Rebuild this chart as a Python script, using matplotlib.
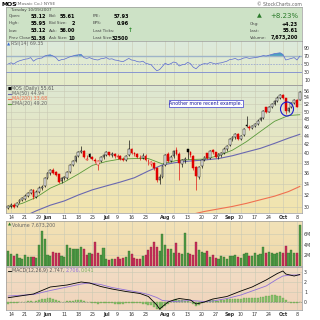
import numpy as np
import pandas as pd
import matplotlib
matplotlib.use("Agg")
import matplotlib.pyplot as plt
from matplotlib.colors import to_rgb
from matplotlib.patches import Ellipse

# trading days shown (NYSE holidays removed)
holidays = ["2007-05-28", "2007-07-04", "2007-09-03"]
days = pd.bdate_range("2007-05-11", "2007-10-09")
days = days[~days.isin(pd.to_datetime(holidays))]

opens = [29.9, 30.2, 30.4, 30.1, 30.8, 31.2, 31.4, 31.9, 32.3, 32.9,
         31.7, 32.6, 33.3, 33.5, 35.0, 36.1, 36.6, 36.2, 35.8, 34.5,
         35.0, 35.1, 36.2, 37.6, 38.4, 39.4, 40.3, 40.5, 38.7, 39.9,
         39.3, 38.7, 37.6, 38.4, 39.2, 39.7, 40.2, 39.6, 39.9, 39.3,
         39.5, 38.8, 38.7, 39.6, 40.9, 40.0, 39.9, 39.0, 39.1, 39.5,
         38.5, 37.8, 38.0, 36.9, 34.6, 35.2, 37.6, 39.9, 38.5, 39.4,
         40.8, 39.9, 37.8, 38.6, 40.9, 40.2, 39.5, 37.2, 35.2, 37.3,
         38.7, 40.0, 39.1, 40.8, 40.2, 39.3, 39.7, 40.1, 41.0, 41.8,
         43.1, 43.6, 44.3, 43.2, 44.2, 46.6, 46.1, 45.8, 46.3, 46.9,
         47.8, 48.4, 51.2, 50.0, 51.3, 52.2, 53.0, 53.9, 54.7, 53.7,
         50.1, 51.2, 52.4, 53.3, 53.12]
highs = [30.4, 30.6, 30.6, 30.8, 31.4, 31.7, 32.1, 32.5, 33.1, 33.0,
         32.8, 33.5, 33.7, 35.2, 36.2, 36.8, 36.9, 36.3, 35.9, 35.2,
         35.5, 36.4, 37.8, 38.6, 39.5, 40.6, 41.6, 40.7, 39.6, 40.1,
         39.5, 39.0, 38.6, 39.4, 39.9, 40.5, 40.4, 40.2, 40.0, 39.8,
         39.6, 39.2, 39.7, 43.0, 41.2, 40.4, 40.1, 39.6, 40.0, 39.8,
         38.9, 38.5, 38.2, 37.1, 35.8, 37.6, 39.9, 40.3, 39.6, 40.7,
         41.4, 40.2, 38.9, 39.3, 41.0, 40.5, 39.6, 37.4, 37.4, 38.9,
         39.5, 40.1, 40.8, 41.0, 40.4, 40.0, 40.4, 41.3, 41.9, 43.4,
         43.9, 44.6, 44.5, 44.2, 45.9, 49.0, 46.5, 46.6, 47.1, 48.0,
         48.6, 50.6, 51.3, 51.6, 52.4, 53.3, 54.3, 55.0, 55.0, 53.9,
         51.4, 52.6, 53.5, 53.6, 55.95]
lows = [29.7, 29.9, 29.8, 30.0, 30.6, 31.0, 31.2, 31.7, 32.1, 31.4,
        31.5, 32.3, 32.8, 33.4, 34.8, 35.7, 35.9, 35.5, 34.2, 34.1,
        34.6, 34.9, 36.0, 37.3, 38.2, 39.2, 40.0, 39.0, 38.6, 39.0,
        38.6, 38.0, 36.6, 38.2, 38.9, 39.4, 39.5, 39.3, 39.1, 38.9,
        38.7, 38.3, 38.5, 39.4, 39.9, 39.5, 39.1, 38.6, 38.9, 38.4,
        37.6, 37.3, 36.6, 34.3, 33.9, 35.0, 37.4, 38.2, 38.1, 39.1,
        39.6, 34.6, 37.2, 38.0, 38.9, 39.2, 36.5, 32.8, 34.9, 37.0,
        38.3, 38.8, 38.9, 39.9, 39.0, 38.9, 39.3, 39.9, 40.6, 41.6,
        42.7, 43.3, 43.0, 42.9, 44.0, 46.0, 45.4, 45.5, 46.0, 46.6,
        47.5, 48.1, 49.7, 49.8, 51.0, 51.8, 52.8, 53.6, 53.4, 49.3,
        49.9, 51.0, 52.0, 51.2, 53.12]
closes = [30.2, 30.3, 30.0, 30.7, 31.2, 31.5, 31.9, 32.3, 32.9, 31.6,
          32.6, 33.2, 33.4, 35.0, 36.0, 36.5, 36.1, 35.7, 34.4, 35.0,
          35.3, 36.2, 37.6, 38.4, 39.4, 40.3, 40.6, 39.2, 38.9, 39.3,
          38.8, 38.4, 38.3, 39.2, 39.7, 40.2, 39.7, 39.9, 39.4, 39.3,
          38.9, 38.6, 39.5, 40.9, 40.1, 39.9, 39.3, 39.1, 39.5, 38.6,
          38.3, 38.1, 36.9, 34.6, 35.3, 37.3, 39.6, 38.5, 39.3, 40.5,
          39.9, 37.9, 38.6, 38.9, 40.4, 39.7, 36.9, 35.4, 37.1, 38.7,
          39.2, 39.0, 40.6, 40.2, 39.3, 39.8, 40.1, 41.0, 41.7, 43.1,
          43.6, 44.4, 43.3, 44.0, 45.7, 46.3, 45.8, 46.3, 46.8, 47.7,
          48.3, 50.3, 49.9, 51.3, 52.1, 53.0, 53.9, 54.6, 53.7, 50.1,
          51.1, 52.4, 53.2, 51.38, 55.61]
volume_m = [2.8, 2.3, 1.8, 2.2, 1.5, 1.4, 2.1, 1.6, 1.7, 1.7,
            1.5, 4.0, 6.5, 5.0, 2.0, 1.8, 2.6, 2.4, 2.5, 1.9,
            1.6, 4.0, 3.4, 3.1, 3.1, 3.2, 3.6, 3.1, 2.0, 2.5,
            2.2, 4.4, 2.5, 2.0, 3.4, 1.3, 1.2, 1.4, 1.4, 1.6,
            1.4, 1.5, 1.7, 2.8, 2.2, 1.5, 1.4, 1.3, 1.8, 2.1,
            3.0, 3.6, 4.5, 3.6, 2.8, 5.9, 4.0, 3.1, 3.1, 2.4,
            4.3, 2.5, 2.2, 6.2, 2.5, 2.3, 2.0, 4.5, 3.0, 2.6,
            2.4, 2.8, 1.6, 2.0, 1.5, 1.4, 1.8, 1.6, 1.4, 1.8,
            1.9, 2.0, 1.6, 1.5, 2.2, 2.5, 1.8, 1.9, 2.5, 2.0,
            2.2, 3.6, 2.4, 2.6, 2.5, 2.3, 2.4, 2.6, 2.5, 3.8,
            2.5, 3.0, 2.5, 2.4, 7.673]
rsi = [50, 53, 50, 55, 58, 60, 62, 63, 66, 57,
       62, 64, 65, 70, 72, 73, 70, 66, 58, 61,
       62, 65, 68, 70, 72, 73, 74, 66, 64, 66,
       63, 61, 60, 63, 64, 66, 62, 63, 60, 59,
       57, 56, 60, 64, 60, 59, 56, 55, 57, 52,
       50, 48, 40, 33, 36, 44, 52, 48, 51, 55,
       53, 45, 48, 49, 54, 51, 42, 38, 45, 49,
       51, 50, 54, 52, 50, 52, 53, 55, 57, 61,
       62, 64, 60, 62, 65, 66, 64, 65, 66, 67,
       69, 71, 70, 72, 74, 76, 77, 78, 74, 60,
       62, 64, 66, 60, 69.35]
macd_hist = [-0.15, -0.12, -0.1, -0.05, 0.0, 0.02, 0.05, 0.08, 0.1, 0.05,
             0.1, 0.2, 0.3, 0.35, 0.4, 0.4, 0.35, 0.25, 0.1, 0.05,
             0.05, 0.08, 0.1, 0.15, 0.2, 0.25, 0.25, 0.15, 0.05, 0.0,
             -0.05, -0.1, -0.15, -0.12, -0.1, -0.08, -0.1, -0.12, -0.15, -0.15,
             -0.15, -0.15, -0.1, -0.05, -0.08, -0.1, -0.12, -0.12, -0.15, -0.2,
             -0.25, -0.3, -0.45, -0.7, -0.8, -0.6, -0.4, -0.2, 0.05, 0.2,
             0.3, 0.25, 0.2, 0.15, 0.1, 0.0, -0.2, -0.35, -0.25, -0.1,
             0.0, 0.1, 0.2, 0.2, 0.15, 0.15, 0.2, 0.25, 0.3, 0.35,
             0.35, 0.3, 0.3, 0.35, 0.4, 0.45, 0.4, 0.4, 0.4, 0.45,
             0.5, 0.55, 0.6, 0.65, 0.7, 0.7, 0.65, 0.6, 0.45, 0.2,
             0.0, -0.1, -0.12, -0.1, 0.041]

# overlay lines read at sample days (index into days)
ema20_idx = [0, 5, 10, 15, 20, 25, 30, 35, 40, 45, 50, 55, 60, 65, 70, 75, 80, 85, 90, 95, 100, 104]
ema20 = [30.0, 30.6, 31.6, 33.2, 34.3, 35.8, 37.5, 38.3, 38.8, 38.9, 38.9,
         37.8, 38.5, 38.7, 38.8, 39.5, 40.7, 42.6, 45.0, 47.5, 49.0, 49.2]
ma50_idx = [8, 10, 15, 20, 25, 30, 35, 40, 45, 50, 55, 60, 65, 70, 75, 80, 85, 90, 95, 100, 104]
ma50 = [29.0, 29.4, 30.3, 31.0, 32.0, 32.9, 33.6, 34.3, 35.1, 36.4, 37.6,
        38.1, 38.4, 38.6, 38.9, 39.5, 40.3, 41.1, 42.2, 43.4, 44.3]
ma200_idx = [65, 70, 75, 80, 85, 90, 95, 100, 104]
ma200 = [28.8, 29.3, 29.7, 30.1, 30.6, 31.2, 31.8, 32.6, 33.5]
macd_idx = [0, 9, 15, 21, 26, 29, 33, 37, 42, 47, 50, 53, 54, 57, 59, 61, 65, 67,
            70, 73, 78, 83, 87, 92, 96, 98, 99, 102, 104]
macd = [0.43, 0.8, 1.5, 1.7, 2.0, 1.9, 1.55, 1.3, 1.05, 0.85, 0.55, -0.3, -0.7,
        0.0, 0.2, 0.35, 0.2, -0.2, 0.0, 0.3, 0.55, 1.1, 1.5, 2.2, 2.85, 3.1, 2.8,
        2.6, 2.747]
signal_idx = [0, 9, 15, 21, 26, 29, 33, 37, 42, 47, 50, 53, 55, 59, 65, 70, 73,
              78, 83, 87, 92, 96, 98, 101, 104]
signal = [0.6, 0.75, 1.15, 1.5, 1.8, 1.9, 1.75, 1.45, 1.2, 0.95, 0.75, 0.45,
          0.15, 0.05, 0.15, 0.05, 0.1, 0.35, 0.7, 1.1, 1.6, 2.3, 2.6, 2.7, 2.706]

tick_dates = ["2007-05-14", "2007-05-21", "2007-05-29", "2007-06-01", "2007-06-11",
              "2007-06-18", "2007-06-25", "2007-07-02", "2007-07-09", "2007-07-16",
              "2007-07-23", "2007-08-01", "2007-08-06", "2007-08-13", "2007-08-20",
              "2007-08-27", "2007-09-04", "2007-09-10", "2007-09-17", "2007-09-24",
              "2007-10-01", "2007-10-08"]
tick_labels = ["14", "21", "29", "Jun", "11", "18", "25", "Jul", "9", "16", "23",
               "Aug", "6", "13", "20", "27", "Sep", "10", "17", "24", "Oct", "8"]

W = H = 320
RED = "#e00000"
GRID = "#c9c9b4"
fig = plt.figure(figsize=(3.2, 3.2), dpi=100)
fig.patch.set_facecolor("white")


def px(x, y):
    return x / W, 1 - y / H


def ftext(x, y, s, **kw):
    kw.setdefault("fontsize", 3.6)
    kw.setdefault("va", "center")
    fig.text(*px(x, y), s, **kw)


def panel(top, bottom, c_top, c_bot):
    rect = [6 / W, 1 - bottom / H, 296 / W, (bottom - top) / H]
    bg = fig.add_axes(rect, zorder=0)
    t = np.linspace(0, 1, 64)[:, None]
    img = np.array(to_rgb(c_top)) * (1 - t) + np.array(to_rgb(c_bot)) * t
    bg.imshow(img[:, None, :], aspect="auto", extent=[0, 1, 0, 1])
    bg.set_axis_off()
    ax = fig.add_axes(rect, zorder=1)
    ax.patch.set_alpha(0)
    for s in ax.spines.values():
        s.set_color("#9a9a9a")
        s.set_linewidth(0.5)
    ax.yaxis.tick_right()
    ax.tick_params(length=0, labelsize=3.4, pad=1.5, colors="#333333")
    ax.set_xlim(-0.8, len(days) - 0.2)
    return ax


x = np.arange(len(days))
tick_pos = [days.get_loc(pd.Timestamp(d)) for d in tick_dates]


def vgrid(ax, labels):
    ax.set_xticks(tick_pos)
    if labels:
        ax.set_xticklabels(tick_labels)
        for t, lab in zip(ax.get_xticklabels(), tick_labels):
            if not lab.isdigit():
                t.set_fontweight("bold")
    else:
        ax.set_xticklabels([])
    ax.tick_params(axis="x", labelsize=3.4, pad=1.5)
    ax.grid(True, axis="x", color=GRID, lw=0.4)


closes_a = np.array(closes)
prev = np.r_[closes_a[0], closes_a[:-1]]
up_day = closes_a >= prev

# ---- header ----
ftext(1, 4, "MOS", fontsize=4.4, fontweight="bold")
ftext(15.5, 4.3, "(Mosaic Co.) NYSE", color="#666666", fontsize=3.2)
ftext(302, 4.3, "© StockCharts.com", color="#666666", fontsize=3.3, ha="right")

info = fig.add_axes([6 / W, 1 - 41 / H, 296 / W, 34 / H])
info.set_facecolor("#cde2c6")
info.set_xticks([])
info.set_yticks([])
for s in info.spines.values():
    s.set_color("#9a9a9a")
    s.set_linewidth(0.5)

LAB = dict(color="#444444", fontsize=3.0)
VAL = dict(fontweight="bold", ha="right", fontsize=3.5)
ftext(10, 10, "Tuesday 10/09/2007", **LAB)
rows = [16, 23.3, 30.7, 38]
col1 = [("Open:", "53.12"), ("High:", "55.95"), ("Low:", "53.12"), ("Prev Close:", "51.38")]
col2 = [("Bid:", "55.61"), ("Bid Size:", "2"), ("Ask:", "56.00"), ("Ask Size:", "10")]
col3 = [("P/E:", "57.93"), ("EPS:", "0.96"), ("Last Ticks:", ""), ("Last Size:", "32500")]
for y, (a, b), (c, d), (e, f) in zip(rows, col1, col2, col3):
    ftext(9, y, a, **LAB)
    ftext(46, y, b, **VAL)
    ftext(49, y, c, **LAB)
    ftext(75, y, d, **VAL)
    ftext(93, y, e, **LAB)
    ftext(129, y, f, **VAL)
ftext(127.5, 30.7, "↑", color="#2a8a2a", fontweight="bold", fontsize=4.2)
ftext(259, 16, "▲", color="#2a7a2a", fontsize=4.5, ha="center")
ftext(298, 16, "+8.23%", color="#2a7a2a", fontsize=5, ha="right")
for y, a, b in [(24, "Chg:", "+4.23"), (31, "Last:", "55.61"), (38, "Volume:", "7,673,200")]:
    ftext(250, y, a, **LAB)
    ftext(298, y, b, **VAL)

# ---- RSI ----
ax_rsi = panel(41, 85, "#dce9dc", "#e6ecc8")
ax_rsi.set_ylim(-2.5, 107.5)
ax_rsi.set_yticks([10, 30, 50, 70, 90])
vgrid(ax_rsi, False)
ax_rsi.axhline(70, color="#9fb4c8", lw=1.0)
ax_rsi.axhline(30, color="#7a8ad0", lw=0.6)
ax_rsi.axhline(50, color="#7a8ad0", lw=0.4, ls=(0, (3, 2)))
rsi_a = np.array(rsi)
ax_rsi.plot(x, rsi_a, color="#5a6ad0", lw=0.5)
ax_rsi.fill_between(x, rsi_a, 70, where=rsi_a > 70, interpolate=True, color="#4aa0c0", lw=0)
ax_rsi.fill_between(x, rsi_a, 30, where=rsi_a < 30, interpolate=True, color="#4aa0c0", lw=0)
ftext(7, 44, "▲", color="#3a6ad0", fontsize=3)
ftext(11, 44, "RSI(14) 69.35", color="#666666", fontsize=3.4)

# ---- price ----
ax = panel(85, 213, "#dde8d2", "#f2e4ae")
ax.set_yscale("log")
ax.set_ylim(29.06, 57.7)
price_ticks = list(range(30, 57, 2))
ax.set_yticks(price_ticks)
ax.set_yticklabels([str(p) for p in price_ticks])
ax.yaxis.set_minor_locator(plt.NullLocator())
ax.grid(True, axis="y", color=GRID, lw=0.4)
vgrid(ax, True)

ax.plot(ema20_idx, ema20, color="#5a9a3a", lw=0.6)
ax.plot(ma50_idx, ma50, color="#6a68b0", lw=0.8)
ax.plot(ma200_idx, ma200, color="#f07050", lw=0.8)

o = np.array(opens)
c = closes_a
edge = np.where(up_day, "black", RED)
face = np.where(c < o, edge, "white")
ax.vlines(x, lows, highs, colors=edge, lw=0.45, zorder=3)
body = np.maximum(np.abs(c - o), 0.05)
ax.bar(x, body, bottom=np.minimum(o, c), width=0.62, color=face,
       edgecolor=edge, linewidth=0.35, zorder=4)

ftext(8, 88.5, "■", fontsize=3)
ftext(11, 88.5, "MOS (Daily) 55.61", color="#555555", fontsize=3.4)
for y, lab, col in [(93.5, "MA(50) 44.94", "#6a68b0"), (98.5, "MA(200) 33.68", "#f07050"),
                    (103.5, "EMA(20) 49.20", "#5a9a3a")]:
    fig.add_artist(plt.Line2D([8 / W, 11 / W], [1 - y / H] * 2, color=col, lw=0.8))
    ftext(12, y, lab, color=col if col == "#f07050" else "#666666", fontsize=3.4)

ftext(206, 103.5, "Another more recent example.", color="#1a1aa0", fontsize=3.4,
      ha="center", bbox=dict(facecolor="white", edgecolor="#3a3ad0", lw=0.5, pad=0.6))
fig.add_artist(Ellipse(px(287, 109), 13 / W, 14 / H, fill=False, edgecolor="#1a1ad0", lw=0.8,
                       zorder=10))

# ---- volume ----
ax_v = panel(221, 266, "#f2e2b8", "#f0d8a8")
ax_v.set_ylim(0, 8.4)
ax_v.set_yticks([2, 4, 6])
ax_v.set_yticklabels(["2M", "4M", "6M"])
ax_v.grid(True, axis="y", color=GRID, lw=0.4)
vgrid(ax_v, False)
vcol = np.where(up_day, "#4f9a45", "#c8305a")
vedge = np.where(up_day, "#2f6a2a", "#8a1a3a")
ax_v.bar(x, volume_m, width=0.75, color=vcol, edgecolor=vedge, linewidth=0.25, zorder=3)
ftext(8, 225, "▲", color="#2a7a2a", fontsize=3)
ftext(12, 225, "Volume 7,673,200", color="#666666", fontsize=3.4)

# ---- MACD ----
ax_m = panel(267, 310, "#f2dcc4", "#f0d4bc")
ax_m.set_ylim(-0.8, 3.5)
ax_m.set_yticks([0, 1, 2, 3])
ax_m.grid(True, axis="y", color=GRID, lw=0.4)
vgrid(ax_m, True)
ax_m.axhline(0, color="#8a8a8a", lw=0.4, ls=(0, (3, 2)))
ax_m.bar(x, macd_hist, width=0.7, color="#8cc070", edgecolor="#5a9a3a", linewidth=0.2, zorder=2)
ax_m.plot(signal_idx, signal, color="#9070d8", lw=0.6, zorder=3)
ax_m.plot(macd_idx, macd, color="black", lw=0.6, zorder=4)
fig.add_artist(plt.Line2D([8 / W, 11 / W], [1 - 270.5 / H] * 2, color="black", lw=0.6))
ftext(12, 270.5, "MACD(12,26,9) 2.747,", color="#555555", fontsize=3.4)
ftext(66, 270.5, "2.706,", color="#9070d8", fontsize=3.4)
ftext(81, 270.5, "0.041", color="#7ab060", fontsize=3.4)

fig.savefig("out.png", dpi=100, facecolor="white")
